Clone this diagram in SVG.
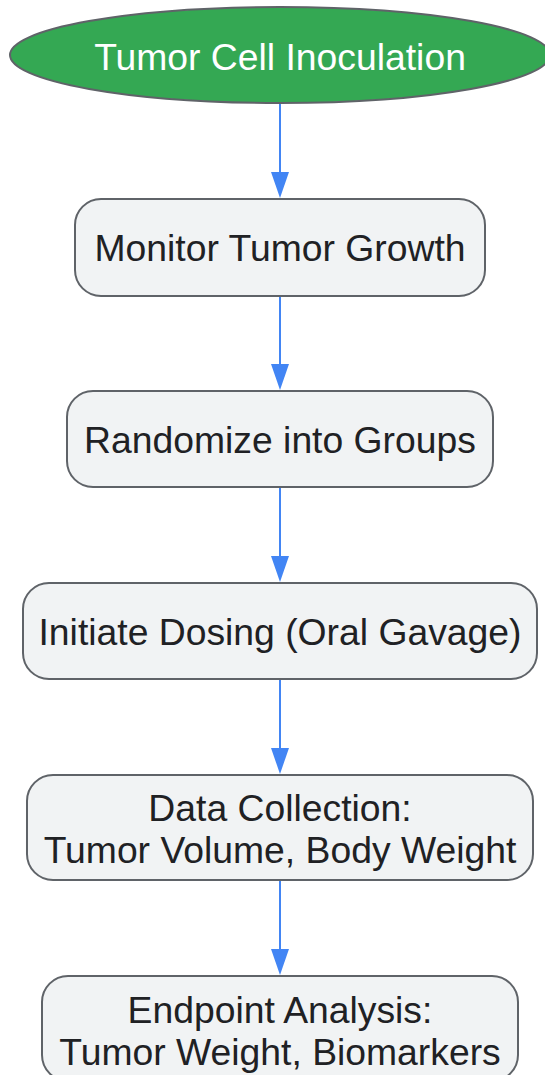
<svg xmlns="http://www.w3.org/2000/svg" width="545" height="1075" viewBox="0 0 545 1075">
<defs>
<style>
.node rect{fill:#f1f3f4;stroke:#5f6368;stroke-width:2}
.node ellipse{fill:#34a853;stroke:#5f6368;stroke-width:2}
.lbl{font-family:"Liberation Sans",Arial,sans-serif;font-size:37.3px;text-anchor:middle;fill:#202124}
.start .lbl{fill:#ffffff}
.edge{stroke:#4285f4;stroke-width:2;fill:none}
.head{fill:#4285f4}
</style>
</defs>
<rect width="545" height="1075" fill="#ffffff"/>
<g id="connectors">
<path class="edge" d="M280,103 V173"/><polygon class="head" points="271,172 289,172 280,198"/>
<path class="edge" d="M280,296 V365"/><polygon class="head" points="271,364 289,364 280,390"/>
<path class="edge" d="M280,488 V557"/><polygon class="head" points="271,556 289,556 280,582"/>
<path class="edge" d="M280,680 V749"/><polygon class="head" points="271,748 289,748 280,774"/>
<path class="edge" d="M280,881 V950"/><polygon class="head" points="271,949 289,949 280,975"/>
</g>
<g id="n1" class="node start"><ellipse cx="280" cy="55" rx="270" ry="48"/><text class="lbl" x="280" y="70">Tumor Cell Inoculation</text></g>
<g id="n2" class="node"><rect x="75" y="199" width="410" height="97" rx="26"/><text class="lbl" x="280" y="261">Monitor Tumor Growth</text></g>
<g id="n3" class="node"><rect x="67" y="391" width="426" height="96" rx="26"/><text class="lbl" x="280" y="453">Randomize into Groups</text></g>
<g id="n4" class="node"><rect x="23" y="583" width="514" height="96" rx="26"/><text class="lbl" x="280" y="645">Initiate Dosing (Oral Gavage)</text></g>
<g id="n5" class="node"><rect x="27" y="775" width="506" height="105" rx="26"/><text class="lbl" x="280" y="821">Data Collection:</text><text class="lbl" x="280" y="863">Tumor Volume, Body Weight</text></g>
<g id="n6" class="node"><rect x="42" y="976" width="476" height="105" rx="26"/><text class="lbl" x="280" y="1023">Endpoint Analysis:</text><text class="lbl" x="280" y="1065">Tumor Weight, Biomarkers</text></g>
</svg>
